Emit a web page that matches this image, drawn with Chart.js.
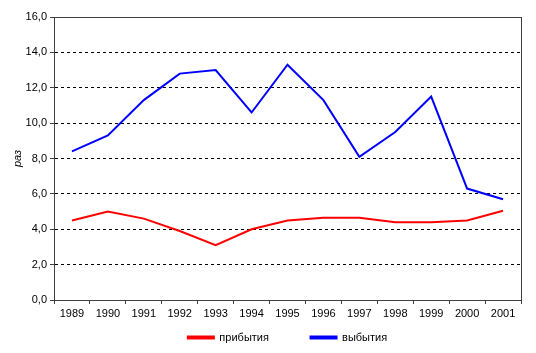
<!DOCTYPE html>
<html>
<head>
<meta charset="utf-8">
<script src="https://cdn.jsdelivr.net/npm/chart.js@4/dist/chart.umd.min.js"></script>
<style>
	html, body { margin: 0; padding: 0; background: #fff; }
	#wrap { width: 536px; height: 353px; }
</style>
</head>
<body>
<div id="wrap"><canvas id="chart" width="536" height="353"></canvas></div>
<script>
// data
const years = ["1989", "1990", "1991", "1992", "1993", "1994", "1995", "1996", "1997", "1998", "1999", "2000", "2001"];
const arrivals = [4.5, 5.0, 4.6, 3.9, 3.1, 4.0, 4.5, 4.65, 4.65, 4.4, 4.4, 4.5, 5.05];
const departures = [8.4, 9.3, 11.3, 12.8, 13.0, 10.6, 13.3, 11.3, 8.1, 9.5, 11.5, 6.3, 5.7];
const seriesNames = ["прибытия", "выбытия"];

Chart.defaults.font.family = "'Liberation Sans', Arial, sans-serif";
Chart.defaults.font.size = 11;
Chart.defaults.color = "#000";

// frame round the plot area
const frame = {
	id: "frame",
	afterDraw(chart) {
		const a = chart.chartArea;
		const ctx = chart.ctx;
		ctx.save();
		ctx.setLineDash([]);
		ctx.strokeStyle = "#404040";
		ctx.lineWidth = 1;
		ctx.strokeRect(Math.round(a.left) + 0.5, Math.round(a.top) + 0.5, Math.round(a.right - a.left), Math.round(a.bottom - a.top));
		ctx.restore();
	},
};

new Chart(document.getElementById("chart"), {
	type: "line",
	data: {
		labels: years,
		datasets: [
			{ label: seriesNames[0], data: arrivals, borderColor: "#ff0000", backgroundColor: "#ff0000", borderWidth: 2, pointRadius: 0, tension: 0 },
			{ label: seriesNames[1], data: departures, borderColor: "#0000ff", backgroundColor: "#0000ff", borderWidth: 2, pointRadius: 0, tension: 0 },
		],
	},
	options: {
		responsive: false,
		animation: false,
		layout: { padding: { top: 17, right: 15, left: 0, bottom: 0 } },
		plugins: {
			tooltip: { enabled: false },
			legend: {
				position: "bottom",
				fullSize: false,
				labels: {
					boxWidth: 26,
					boxHeight: 2,
					padding: 8,
					color: "#000",
					generateLabels(chart) {
						const items = Chart.defaults.plugins.legend.labels.generateLabels(chart);
						items[0].text = items[0].text + "           ";
						return items;
					},
				},
			},
		},
		scales: {
			x: {
				offset: true,
				grid: { offset: true, drawOnChartArea: false, tickLength: 4, color: "#404040" },
				border: { color: "#404040" },
				ticks: { padding: 3, maxRotation: 0 },
				afterFit(s) { s.height = 24; },
			},
			y: {
				min: 0,
				max: 16,
				ticks: { stepSize: 2, padding: 3, callback: (v) => v.toFixed(1).replace(".", ",") },
				grid: { color: "#000", tickBorderDash: [], tickColor: "#404040", tickLength: 4 },
				border: { color: "#404040", dash: [3, 3] },
				title: { display: true, text: "раз", font: { style: "italic", size: 11 }, padding: { top: 11, bottom: 0 } },
				afterFit(s) { s.width = 54; },
			},
		},
	},
	plugins: [frame],
});
</script>
</body>
</html>
